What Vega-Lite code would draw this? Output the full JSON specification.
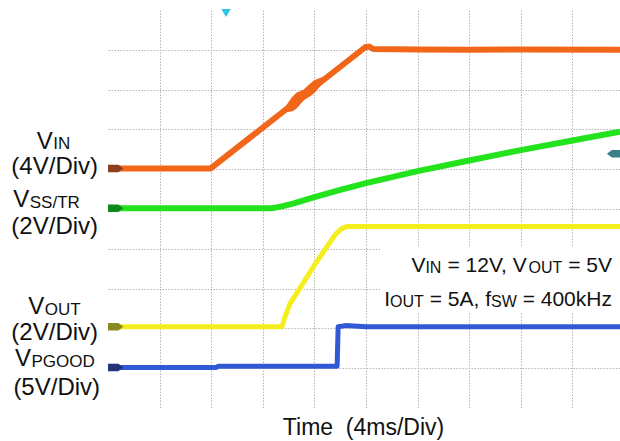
{
  "$schema": "https://vega.github.io/schema/vega-lite/v6.json",
  "width": 512,
  "height": 398,
  "autosize": {"type": "none"},
  "padding": {"left": 108, "top": 10, "right": 0, "bottom": 33},
  "background": "white",
  "config": {"view": {"stroke": null}, "font": "Liberation Sans"},
  "datasets": {
    "box": [{"x0": 5.27, "x1": 9.922, "y0": 2.42, "y1": 4.05}],
    "traces": [
      {"series": "VIN", "d": 0, "v": 6.02}, {"series": "VIN", "d": 1.99, "v": 6.02}, {"series": "VIN", "d": 4.99, "v": 9.07}, {"series": "VIN", "d": 5.06, "v": 9.08}, {"series": "VIN", "d": 5.14, "v": 9.02}, {"series": "VIN", "d": 6.0, "v": 9.01}, {"series": "VIN", "d": 7.0, "v": 9.0}, {"series": "VIN", "d": 8.0, "v": 9.01}, {"series": "VIN", "d": 9.922, "v": 9.0},
      {"series": "VSS", "d": 0, "v": 5.02}, {"series": "VSS", "d": 3.17, "v": 5.02}, {"series": "VSS", "d": 3.35, "v": 5.06}, {"series": "VSS", "d": 3.6, "v": 5.14}, {"series": "VSS", "d": 4.0, "v": 5.3}, {"series": "VSS", "d": 4.5, "v": 5.48}, {"series": "VSS", "d": 5.0, "v": 5.65}, {"series": "VSS", "d": 5.5, "v": 5.8}, {"series": "VSS", "d": 6.0, "v": 5.95}, {"series": "VSS", "d": 7.0, "v": 6.22}, {"series": "VSS", "d": 8.0, "v": 6.48}, {"series": "VSS", "d": 9.0, "v": 6.72}, {"series": "VSS", "d": 9.922, "v": 6.94},
      {"series": "VOUT", "d": 0, "v": 2.04}, {"series": "VOUT", "d": 3.37, "v": 2.04}, {"series": "VOUT", "d": 3.43, "v": 2.29}, {"series": "VOUT", "d": 3.53, "v": 2.63}, {"series": "VOUT", "d": 3.72, "v": 3.01}, {"series": "VOUT", "d": 3.98, "v": 3.55}, {"series": "VOUT", "d": 4.24, "v": 4.05}, {"series": "VOUT", "d": 4.4, "v": 4.35}, {"series": "VOUT", "d": 4.52, "v": 4.5}, {"series": "VOUT", "d": 4.63, "v": 4.56}, {"series": "VOUT", "d": 9.922, "v": 4.56},
      {"series": "PGOOD", "d": 0, "v": 1.02}, {"series": "PGOOD", "d": 2.1, "v": 1.02}, {"series": "PGOOD", "d": 2.14, "v": 1.05}, {"series": "PGOOD", "d": 4.44, "v": 1.05}, {"series": "PGOOD", "d": 4.46, "v": 2.04}, {"series": "PGOOD", "d": 4.6, "v": 2.07}, {"series": "PGOOD", "d": 5.0, "v": 2.04}, {"series": "PGOOD", "d": 9.922, "v": 2.04}
    ],
    "blob": [
      {"d": 3.4, "lo": 7.43, "hi": 7.5}, {"d": 3.48, "lo": 7.44, "hi": 7.65}, {"d": 3.56, "lo": 7.45, "hi": 7.8}, {"d": 3.64, "lo": 7.51, "hi": 7.91}, {"d": 3.72, "lo": 7.62, "hi": 7.96}, {"d": 3.8, "lo": 7.73, "hi": 8.01}, {"d": 3.88, "lo": 7.8, "hi": 8.11}, {"d": 3.96, "lo": 7.87, "hi": 8.2}, {"d": 4.04, "lo": 7.97, "hi": 8.26}, {"d": 4.12, "lo": 8.1, "hi": 8.3}, {"d": 4.2, "lo": 8.22, "hi": 8.34}, {"d": 4.28, "lo": 8.33, "hi": 8.39}
    ],
    "markers": [
      {"ch": "VIN", "kind": "L", "d": 0.136, "v": 6.02},
      {"ch": "VSS", "kind": "L", "d": 0.136, "v": 5.02},
      {"ch": "VOUT", "kind": "L", "d": 0.136, "v": 2.04},
      {"ch": "PGOOD", "kind": "L", "d": 0.136, "v": 1.02},
      {"ch": "TRIG", "kind": "R", "d": 9.83, "v": 6.39}
    ],
    "trigger": [{"d": 2.287, "v": 9.925}],
    "texts": [
      {"role": "lm", "t": "V", "x": -1.382, "y": 6.52},
      {"role": "ls", "t": "IN", "x": -1.06, "y": 6.508},
      {"role": "lc", "t": "(4V/Div)", "x": -1.033, "y": 5.867},
      {"role": "lm", "t": "V", "x": -1.835, "y": 5.058},
      {"role": "ls", "t": "SS/TR", "x": -1.516, "y": 5.025},
      {"role": "lc", "t": "(2V/Div)", "x": -1.033, "y": 4.384},
      {"role": "lm", "t": "V", "x": -1.545, "y": 2.362},
      {"role": "ls", "t": "OUT", "x": -1.225, "y": 2.337},
      {"role": "lc", "t": "(2V/Div)", "x": -1.033, "y": 1.709},
      {"role": "lm", "t": "V", "x": -1.802, "y": 1.063},
      {"role": "ls", "t": "PGOOD", "x": -1.483, "y": 1.038},
      {"role": "lc", "t": "(5V/Div)", "x": -0.994, "y": 0.327},
      {"role": "am", "t": "V", "x": 5.88, "y": 3.417},
      {"role": "as", "t": "IN", "x": 6.151, "y": 3.392},
      {"role": "am", "t": "= 12V, V", "x": 6.578, "y": 3.417},
      {"role": "as", "t": "OUT", "x": 8.149, "y": 3.392},
      {"role": "am", "t": "= 5V", "x": 8.917, "y": 3.417},
      {"role": "am", "t": "I", "x": 5.355, "y": 2.563},
      {"role": "as", "t": "OUT", "x": 5.467, "y": 2.538},
      {"role": "am", "t": "= 5A, f", "x": 6.235, "y": 2.563},
      {"role": "as", "t": "SW", "x": 7.422, "y": 2.538},
      {"role": "am", "t": "= 400kHz", "x": 8.035, "y": 2.563},
      {"role": "title", "t": "Time\u00a0\u00a0(4ms/Div)", "x": 4.952, "y": -0.678}
    ]
  },
  "layer": [
    {
      "data": {"name": "box"},
      "mark": {"type": "rect", "color": "white"},
      "encoding": {
        "x": {"field": "x0", "type": "quantitative", "scale": {"domain": [0, 9.922], "nice": false, "zero": false},
          "axis": {"title": null, "labels": false, "ticks": false, "domain": false, "grid": true, "values": [1, 2, 3, 4, 5, 6, 7, 8, 9], "gridColor": "#b4b4b4", "gridDash": [1.5, 1.5], "gridWidth": 1}},
        "x2": {"field": "x1"},
        "y": {"field": "y0", "type": "quantitative", "scale": {"domain": [0, 10], "nice": false, "zero": false},
          "axis": {"title": null, "labels": false, "ticks": false, "domain": false, "grid": true, "values": [1, 2, 3, 4, 5, 6, 7, 8, 9], "gridColor": "#b4b4b4", "gridDash": [1.5, 1.5], "gridWidth": 1}},
        "y2": {"field": "y1"}
      }
    },
    {
      "data": {"name": "traces"},
      "transform": [{"filter": "datum.series == 'PGOOD' || datum.series == 'VOUT'"}],
      "mark": {"type": "line", "strokeWidth": 5, "strokeJoin": "round", "clip": true},
      "encoding": {
        "x": {"field": "d", "type": "quantitative"},
        "y": {"field": "v", "type": "quantitative"},
        "stroke": {"field": "series", "type": "nominal", "legend": null,
          "scale": {"domain": ["PGOOD", "VOUT", "VSS", "VIN"], "range": ["#3159d6", "#f4ee1e", "#22e31c", "#f2661a"]}}
      }
    },
    {
      "data": {"name": "traces"},
      "transform": [{"filter": "datum.series == 'VSS' || datum.series == 'VIN'"}],
      "mark": {"type": "line", "strokeWidth": 6, "strokeJoin": "round", "clip": true},
      "encoding": {
        "x": {"field": "d", "type": "quantitative"},
        "y": {"field": "v", "type": "quantitative"},
        "stroke": {"field": "series", "type": "nominal", "legend": null}
      }
    },
    {
      "data": {"name": "blob"},
      "mark": {"type": "area", "color": "#f2661a", "interpolate": "monotone"},
      "encoding": {
        "x": {"field": "d", "type": "quantitative"},
        "y": {"field": "lo", "type": "quantitative"},
        "y2": {"field": "hi"}
      }
    },
    {
      "data": {"name": "markers"},
      "mark": {"type": "point", "filled": true, "size": 280, "opacity": 1, "clip": true},
      "encoding": {
        "x": {"field": "d", "type": "quantitative"},
        "y": {"field": "v", "type": "quantitative"},
        "fill": {"field": "ch", "type": "nominal", "legend": null,
          "scale": {"domain": ["VIN", "VSS", "VOUT", "PGOOD", "TRIG"], "range": ["#8c3f1c", "#0f8a1a", "#8a8a1e", "#22337a", "#3d7f86"]}},
        "shape": {"field": "kind", "type": "nominal", "legend": null,
          "scale": {"domain": ["L", "R"], "range": ["M-1,-0.45 L0.4,-0.45 L1,0 L0.4,0.45 L-1,0.45 Z", "M1,-0.45 L-0.4,-0.45 L-1,0 L-0.4,0.45 L1,0.45 Z"]}}
      }
    },
    {
      "data": {"name": "trigger"},
      "mark": {"type": "point", "shape": "triangle-down", "filled": true, "size": 90, "color": "#2ec6e6", "opacity": 1},
      "encoding": {
        "x": {"field": "d", "type": "quantitative"},
        "y": {"field": "v", "type": "quantitative"}
      }
    },
    {
      "data": {"name": "texts"},
      "transform": [{"filter": "datum.role == 'lm'"}],
      "mark": {"type": "text", "fontSize": 24, "align": "left", "baseline": "alphabetic", "color": "#111"},
      "encoding": {"x": {"field": "x", "type": "quantitative"}, "y": {"field": "y", "type": "quantitative"}, "text": {"field": "t"}}
    },
    {
      "data": {"name": "texts"},
      "transform": [{"filter": "datum.role == 'ls'"}],
      "mark": {"type": "text", "fontSize": 17, "align": "left", "baseline": "alphabetic", "color": "#111"},
      "encoding": {"x": {"field": "x", "type": "quantitative"}, "y": {"field": "y", "type": "quantitative"}, "text": {"field": "t"}}
    },
    {
      "data": {"name": "texts"},
      "transform": [{"filter": "datum.role == 'lc'"}],
      "mark": {"type": "text", "fontSize": 24, "align": "center", "baseline": "alphabetic", "color": "#111"},
      "encoding": {"x": {"field": "x", "type": "quantitative"}, "y": {"field": "y", "type": "quantitative"}, "text": {"field": "t"}}
    },
    {
      "data": {"name": "texts"},
      "transform": [{"filter": "datum.role == 'am'"}],
      "mark": {"type": "text", "fontSize": 21, "align": "left", "baseline": "alphabetic", "color": "#111"},
      "encoding": {"x": {"field": "x", "type": "quantitative"}, "y": {"field": "y", "type": "quantitative"}, "text": {"field": "t"}}
    },
    {
      "data": {"name": "texts"},
      "transform": [{"filter": "datum.role == 'as'"}],
      "mark": {"type": "text", "fontSize": 16, "align": "left", "baseline": "alphabetic", "color": "#111"},
      "encoding": {"x": {"field": "x", "type": "quantitative"}, "y": {"field": "y", "type": "quantitative"}, "text": {"field": "t"}}
    },
    {
      "data": {"name": "texts"},
      "transform": [{"filter": "datum.role == 'title'"}],
      "mark": {"type": "text", "fontSize": 23, "align": "center", "baseline": "alphabetic", "color": "#111"},
      "encoding": {"x": {"field": "x", "type": "quantitative"}, "y": {"field": "y", "type": "quantitative"}, "text": {"field": "t"}}
    }
  ]
}
